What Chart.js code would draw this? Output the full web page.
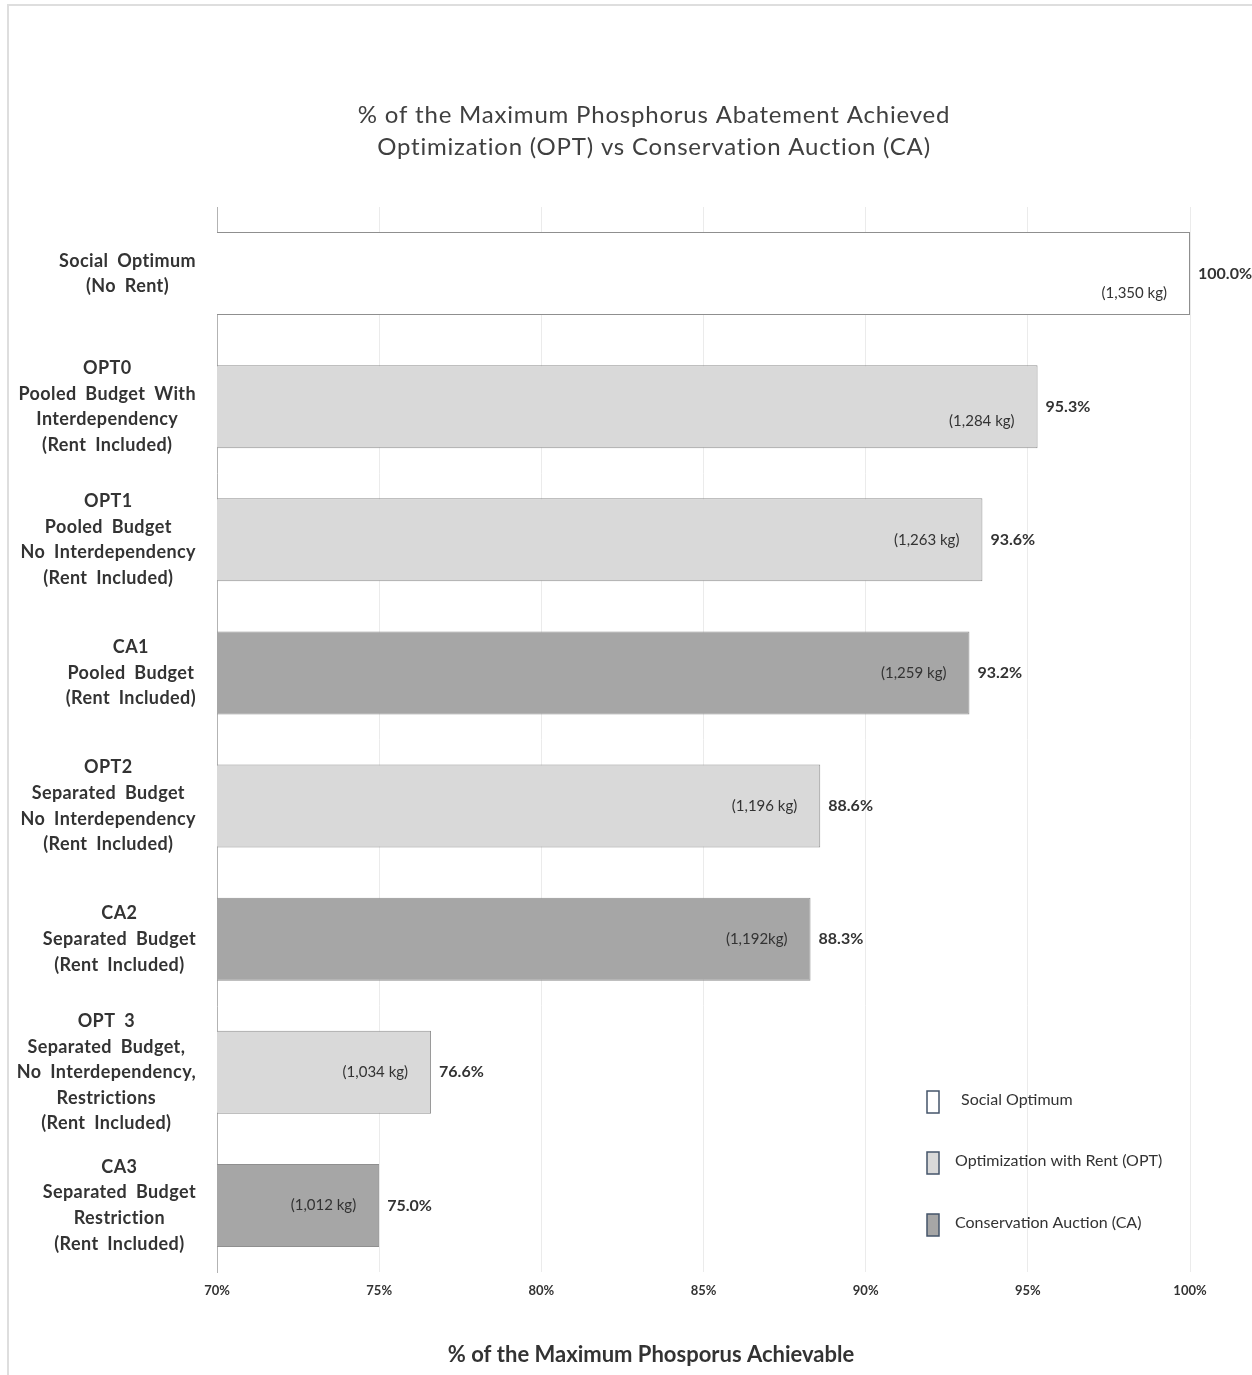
<!DOCTYPE html>
<html>
<head>
<meta charset="utf-8">
<title>Phosphorus abatement: OPT vs CA</title>
<script src="https://cdn.jsdelivr.net/npm/chart.js@4.4.0/dist/chart.umd.min.js"></script>
<style>
  html, body { margin: 0; padding: 0; background: #fff; }
  #frame { position: absolute; left: 0; top: 0; width: 1252px; height: 1375px; }
  #frame::before {
    content: ''; position: absolute; left: 7px; top: 4px; right: 0; bottom: 0;
    border-top: 2px solid #dedede; border-left: 2px solid #dedede;
  }
  canvas { position: absolute; left: 0; top: 0; }
</style>
</head>
<body>
<div id="frame"><canvas id="abatement" width="1252" height="1375"></canvas></div>
<script>
// scenarios, top to bottom
const categories = [
  ['Social Optimum', '(No Rent)'],
  ['OPT0', 'Pooled Budget With', 'Interdependency', '(Rent Included)'],
  ['OPT1', 'Pooled Budget', 'No Interdependency', '(Rent Included)'],
  ['CA1', 'Pooled Budget', '(Rent Included)'],
  ['OPT2', 'Separated Budget', 'No Interdependency', '(Rent Included)'],
  ['CA2', 'Separated Budget', '(Rent Included)'],
  ['OPT 3', 'Separated Budget,', 'No Interdependency,', 'Restrictions', '(Rent Included)'],
  ['CA3', 'Separated Budget', 'Restriction', '(Rent Included)']
];
const percentAchieved = [100.0, 95.3, 93.6, 93.2, 88.6, 88.3, 76.6, 75.0];
const kgLabels = ['(1,350 kg)', '(1,284 kg)', '(1,263 kg)', '(1,259 kg)',
                  '(1,196 kg)', '(1,192kg)', '(1,034 kg)', '(1,012 kg)'];
// 0 = social optimum, 1 = OPT, 2 = CA
const groupOf = [0, 1, 1, 2, 1, 2, 1, 2];
const groupNames = ['Social Optimum', 'Optimization with Rent (OPT)', 'Conservation Auction (CA)'];
const xTicks = [70, 75, 80, 85, 90, 95, 100];

const FONT = 'Lato, "Open Sans", sans-serif';
const TEXT = '#333333';
const groupFill = ['#ffffff', '#d9d9d9', '#a6a6a6'];

// first two kg labels sit in the lower half of their bars
const kgLabelDrop = [20, 14, 0, 0, 0, 0, 0, 0];

const annotate = {
  id: 'annotate',
  afterDatasetsDraw(chart) {
    const ctx = chart.ctx;
    const area = chart.chartArea;
    ctx.save();
    ctx.fillStyle = TEXT;
    ctx.textBaseline = 'middle';

    // values and kg amounts on each bar
    chart.getDatasetMeta(0).data.forEach((bar, i) => {
      ctx.font = `bold 16px ${FONT}`;
      ctx.textAlign = 'left';
      ctx.fillText(percentAchieved[i].toFixed(1) + '%', bar.x + 8, bar.y);
      ctx.font = `15px ${FONT}`;
      ctx.textAlign = 'right';
      ctx.fillText(kgLabels[i], bar.x - 23, bar.y + kgLabelDrop[i]);
    });

    // category labels, each block centred on its own widest line
    const y = chart.scales.y;
    ctx.font = `bold 18px ${FONT}`;
    ctx.letterSpacing = '0.4px';
    ctx.wordSpacing = '4px';
    ctx.textAlign = 'center';
    categories.forEach((lines, i) => {
      const cy = y.getPixelForTick(i);
      const widest = Math.max(...lines.map(l => ctx.measureText(l).width));
      const cx = area.left - 21 - widest / 2;
      lines.forEach((line, k) => {
        ctx.fillText(line, cx, cy + (k - (lines.length - 1) / 2) * 25.6);
      });
    });
    ctx.wordSpacing = '0px';

    // titles
    ctx.fillStyle = '#404040';
    ctx.font = `24px ${FONT}`;
    ctx.letterSpacing = '0.8px';
    ctx.fillText('% of the Maximum Phosphorus Abatement Achieved', 654, 115);
    ctx.fillText('Optimization (OPT) vs Conservation Auction (CA)', 654, 147);
    ctx.letterSpacing = '0px';
    ctx.fillStyle = TEXT;
    ctx.font = `bold 22px ${FONT}`;
    ctx.fillText('% of the Maximum Phosporus Achievable', 651, 1355);

    // legend
    const boxX = area.right - 263;
    const boxTops = [area.bottom - 181, area.bottom - 120, area.bottom - 58];
    ctx.font = `16px ${FONT}`;
    ctx.textAlign = 'left';
    groupNames.forEach((name, g) => {
      ctx.fillStyle = groupFill[g];
      ctx.strokeStyle = '#44546a';
      ctx.lineWidth = 1.5;
      ctx.fillRect(boxX, boxTops[g], 12, 22);
      ctx.strokeRect(boxX, boxTops[g], 12, 22);
      ctx.fillStyle = TEXT;
      ctx.fillText(name, boxX + (g === 0 ? 34 : 28), boxTops[g] + 9);
    });
    ctx.restore();
  }
};

new Chart(document.getElementById('abatement'), {
  type: 'bar',
  data: {
    labels: categories.map(c => c.join(' ')),
    datasets: [{
      data: percentAchieved,
      backgroundColor: groupOf.map(g => groupFill[g]),
      borderColor: '#8f8f8f',
      borderWidth: 1,
      borderSkipped: false,
      barPercentage: 0.624,
      categoryPercentage: 1
    }]
  },
  options: {
    responsive: false,
    animation: false,
    indexAxis: 'y',
    layout: { padding: { top: 207, right: 62, left: 0, bottom: 0 } },
    plugins: {
      legend: { display: false },
      tooltip: { enabled: false },
      title: { display: false }
    },
    scales: {
      x: {
        min: xTicks[0],
        max: xTicks[xTicks.length - 1],
        afterBuildTicks: s => { s.ticks = xTicks.map(v => ({ value: v })); },
        ticks: {
          callback: v => v + '%',
          font: { family: FONT, size: 13, weight: 'bold' },
          color: TEXT,
          padding: 11,
          maxRotation: 0
        },
        grid: { color: '#ebebeb', drawTicks: false },
        border: { display: false },
        afterFit: s => { s.height = 103; }
      },
      y: {
        ticks: { display: false },
        grid: { display: false },
        border: { color: '#b3b3b3' },
        afterFit: s => { s.width = 217; }
      }
    }
  },
  plugins: [annotate]
});
</script>
</body>
</html>
